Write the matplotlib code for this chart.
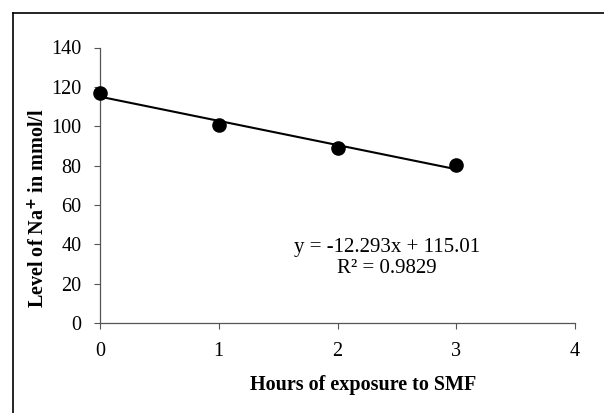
import matplotlib

matplotlib.use("Agg")
import matplotlib.pyplot as plt
from matplotlib.lines import Line2D

hours = [0, 1, 2, 3]
sodium = [117.1, 100.7, 88.7, 80.1]
fit_slope = -12.293
fit_intercept = 115.01
x_ticks = [0, 1, 2, 3, 4]
y_ticks = [0, 20, 40, 60, 80, 100, 120, 140]

plt.rcParams["font.family"] = ["Liberation Serif", "DejaVu Serif"]

W, H = 604, 413
fig = plt.figure(figsize=(W / 100, H / 100), dpi=100)
fig.patch.set_facecolor("white")
ax = fig.add_axes([100 / W, 1 - 323 / H, 475 / W, 275.5 / H])

fit_x = [hours[0], hours[-1]]
fit_y = [fit_intercept + fit_slope * x for x in fit_x]
ax.plot(fit_x, fit_y, color="black", lw=1.5, zorder=2)
ax.scatter(hours, sodium, s=90, color="black", zorder=3, clip_on=False)

ax.set_xlim(0, 4)
ax.set_ylim(0, 140)
ax.set_xticks(x_ticks)
ax.set_yticks(y_ticks)
ax.tick_params(labelsize=14.5, direction="out", length=4.5, width=0.8,
               color="#555555", pad=9)
for side in ("top", "right"):
    ax.spines[side].set_visible(False)
for side in ("left", "bottom"):
    ax.spines[side].set_color("#555555")
    ax.spines[side].set_linewidth(0.9)

ax.set_xlabel("Hours of exposure to SMF", fontsize=14.5, fontweight="bold")
ax.xaxis.set_label_coords((363 - 100) / 475, -(385 - 323) / 275.5)
ax.xaxis.label.set_va("center")
ax.set_ylabel("Level of Na$^{\\mathbf{+}}$ in mmol/l", fontsize=14.5, fontweight="bold")
ax.yaxis.set_label_coords(-(100 - 39) / 475, (323 - 208) / 275.5)
ax.yaxis.label.set_va("center")

ax.text(2.417, 33, "y = -12.293x + 115.01\nR² = 0.9829", fontsize=15,
        ha="center", va="center", linespacing=1.1)

# outer frame (only top and left edges visible in the original)
fig.add_artist(Line2D([12.5 / W, 12.5 / W], [0, 1 - 12.5 / H], color="black", lw=1.2,
                      transform=fig.transFigure))
fig.add_artist(Line2D([12.5 / W, 1], [1 - 12.5 / H, 1 - 12.5 / H], color="black", lw=1.2,
                      transform=fig.transFigure))

fig.savefig("out.png", dpi=100)
